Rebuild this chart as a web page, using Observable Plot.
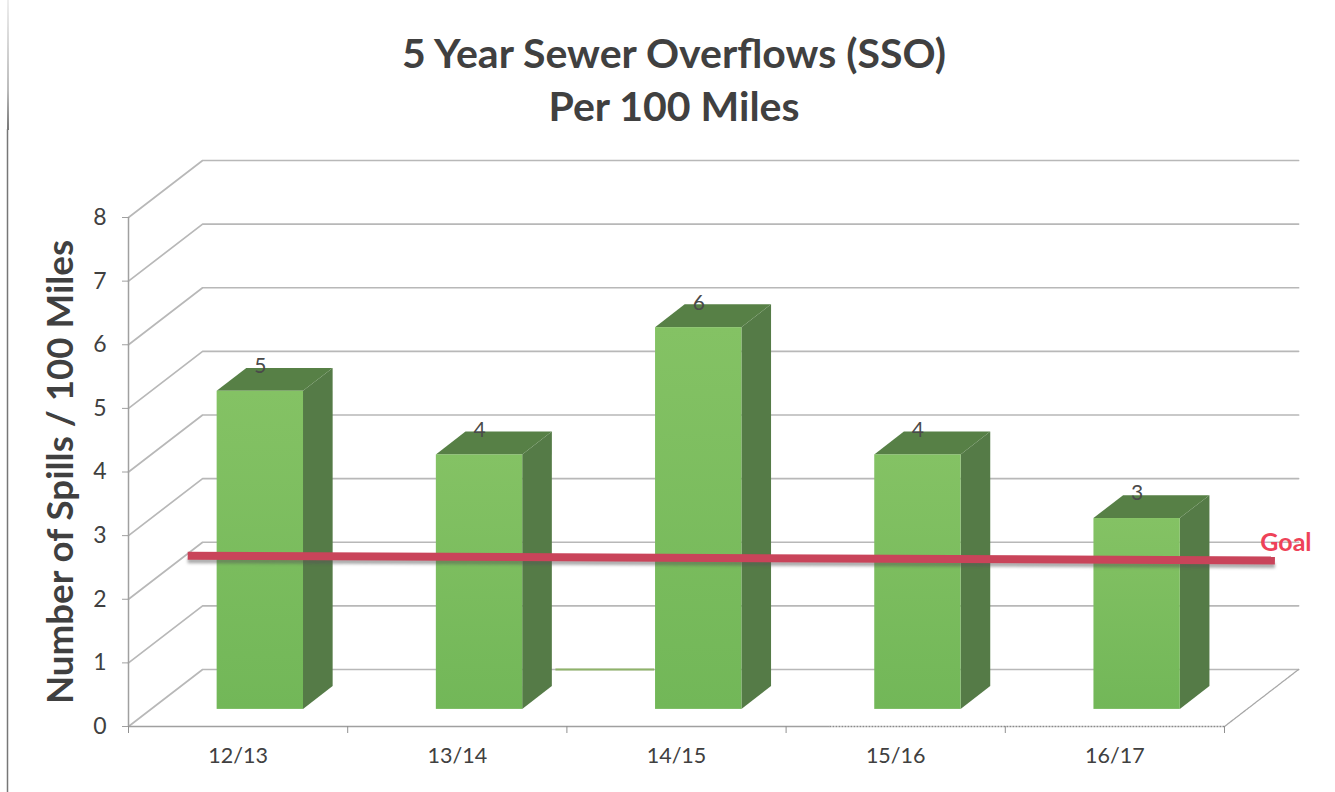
<!DOCTYPE html>
<html><head><meta charset="utf-8">
<script src="https://cdn.jsdelivr.net/npm/d3@7"></script>
<script src="https://cdn.jsdelivr.net/npm/@observablehq/plot@0.6"></script>
<style>
html,body{margin:0;padding:0;background:#fff;overflow:hidden}
#title{height:130px;box-sizing:border-box;padding-top:26px;text-align:center;font:700 41px/53px Lato,sans-serif;color:#404040;width:1348px;position:relative}
#title:before{content:"";position:absolute;left:7px;top:0;bottom:0;width:1.5px;background:linear-gradient(#eee,#bbb 70%,#777)}
#chart svg{display:block;overflow:visible}
.goal-shadow{filter:blur(1.5px)}
</style></head><body>
<div id="title">5 Year Sewer Overflows (SSO)<br>Per 100 Miles</div>
<div id="chart"></div>
<script>
const categories = ["12/13","13/14","14/15","15/16","16/17"];
const spills = [5,4,6,4,3];
const yTicks = [0,1,2,3,4,5,6,7,8];
const xBoundaries = [0,1,2,3,4,5];
const goalX = [0.27,5.23];
const goalY = [2.685,2.61];
const stainX = [1.95,2.4];
const pageEdges = [-0.552,5.51];

// Oblique depth of the chart floor, in data units of each scale
const depthX = 0.338, depthY = 0.896;
const barFront = 0.30, barBack = 0.70, barHalf = 0.197;
const px = (x,t) => x + t*depthX;
const py = (y,t) => y + t*depthY;

const grid = yTicks.flatMap(v => [
  {v,x:0,y:v},
  {v,x:px(0,1),y:py(v,1)},
  {v,x:px(5,1),y:py(v,1)}
]);
const floorEdge = [{x:5,y:0},{x:px(5,1),y:py(0,1)}];

const bars = categories.map((c,i) => ({c,v:spills[i],l:px(i+.5-barHalf,barFront),r:px(i+.5+barHalf,barFront)}));
const side = bars.flatMap(b => [barFront,barBack].map(t => ({
  c:b.c,x:b.r+(t-barFront)*depthX,y1:py(0,t),y2:py(b.v,t)
})));
const top_ = bars.flatMap(b => [barFront,barBack].map(t => ({
  c:b.c,y:py(b.v,t),x1:b.l+(t-barFront)*depthX,x2:b.r+(t-barFront)*depthX
})));
const goal = goalX.map((x,i)=>({x,y:goalY[i]}));

const defs = () => {
  const s = d3.create("svg:defs");
  const g = s.append("linearGradient").attr("id","barFace").attr("x1",0).attr("x2",0).attr("y1",0).attr("y2",1);
  g.append("stop").attr("offset","0%").attr("stop-color","#84c264");
  g.append("stop").attr("offset","100%").attr("stop-color","#72b758");
  return s.node();
};

const plot = Plot.plot({
  width:1335,height:662,
  marginLeft:128,marginRight:111,marginTop:87,marginBottom:66,
  x:{domain:[0,5],label:null},
  y:{domain:[0,8],label:null},
  style:{fontFamily:"Lato,sans-serif",background:"transparent"},
  marks:[
    defs,
    Plot.ruleX([pageEdges[0]],{stroke:"#777",strokeWidth:1.5,y1:-1.05,y2:9.38}),
    Plot.ruleX([pageEdges[1]],{stroke:"#e2e2e2",strokeWidth:1,y1:-1.05,y2:9.38}),
    Plot.line(grid,{x:"x",y:"y",z:"v",stroke:"#b8b8b8",strokeWidth:1.7}),
    Plot.line(floorEdge,{x:"x",y:"y",stroke:"#a8a8a8",strokeWidth:1.3,strokeDasharray:"3 1"}),
    Plot.ruleY([py(0,1)],{x1:stainX[0],x2:stainX[1],stroke:"#8fb36a",strokeWidth:2}),
    Plot.ruleX([0],{y1:0,y2:8,stroke:"#a0a0a0",strokeWidth:1.5}),
    Plot.ruleY([0],{x1:0,x2:3.2,stroke:"#a0a0a0",strokeWidth:1.6}),
    Plot.ruleY([0],{x1:3.2,x2:5,stroke:"#8a8a8a",strokeWidth:1.3,strokeDasharray:"2 1"}),
    Plot.axisY({ticks:yTicks,tickSize:6,tickPadding:16,stroke:"#a0a0a0",fill:"#404040",fontSize:23,label:null}),
    Plot.axisX({ticks:xBoundaries,tickFormat:()=>"",tickSize:7,stroke:"#909090",label:null}),
    Plot.axisX({ticks:categories.map((c,i)=>i+.5),tickFormat:(d)=>categories[d-.5],tickSize:0,tickPadding:21,fill:"#404040",fontSize:21.5,label:null}),
    Plot.text(["Number of Spills / 100 Miles"],{frameAnchor:"left",textAnchor:"middle",rotate:-90,dx:-67,fontSize:36.7,fontWeight:700,fill:"#404040"}),
    Plot.areaY(side,{x:"x",y1:"y1",y2:"y2",z:"c",fill:"#557b47"}),
    Plot.areaX(top_,{y:"y",x1:"x1",x2:"x2",z:"c",fill:"#578046"}),
    Plot.rect(bars,{x1:"l",x2:"r",y1:()=>py(0,barFront),y2:d=>py(d.v,barFront),fill:"url(#barFace)"}),
    Plot.text(bars,{x:d=>d.l+barHalf,y:d=>py(d.v,barBack),text:"v",dy:-2,fontSize:21,fill:"#4a4a4a"}),
    Plot.line(goal,{x:"x",y:"y",stroke:"#555",strokeOpacity:.5,strokeWidth:5,dy:5,strokeLinecap:"butt",className:"goal-shadow"}),
    Plot.line(goal,{x:"x",y:"y",stroke:"#c9445a",strokeWidth:8,strokeLinecap:"butt"}),
    Plot.text(["Goal"],{x:[goalX[1]],y:[goalY[1]],dx:11,dy:-17,fontSize:25,fontWeight:700,fill:"#ee4258"})
  ]
});
document.getElementById("chart").append(plot);
</script></body></html>
